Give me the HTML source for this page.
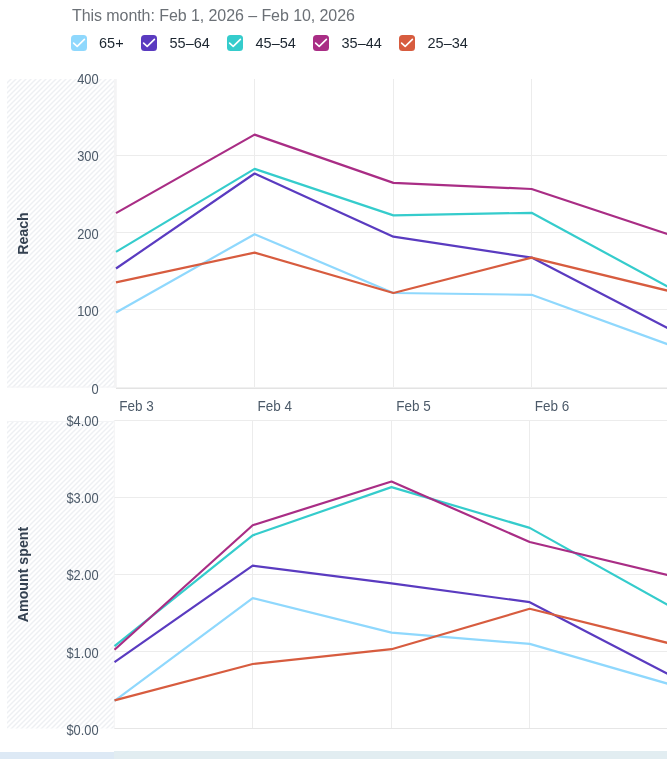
<!DOCTYPE html>
<html><head><meta charset="utf-8">
<style>
html,body{margin:0;padding:0;background:#fff;}
body{width:667px;height:759px;position:relative;overflow:hidden;font-family:"Liberation Sans",Arial,sans-serif;}
.wrap{position:absolute;left:0;top:0;width:667px;height:759px;will-change:transform;}
.title{position:absolute;left:72px;top:5.8px;font-size:16px;line-height:20px;color:#6b7076;white-space:nowrap;letter-spacing:-0.07px;}
.lg{position:absolute;top:35px;width:16px;height:16px;}
.lg svg{display:block;}
.lt{position:absolute;top:34px;font-size:14.5px;line-height:18px;color:#1c2630;white-space:nowrap;}
svg.chart{position:absolute;left:0;top:0;}
.band1{position:absolute;left:0;top:752px;width:114px;height:7px;background:#dde9f5;}
.band2{position:absolute;left:114px;top:751px;width:553px;height:8px;background:#e2edf1;}
</style></head><body><div class="wrap">
<div class="title">This month: Feb 1, 2026 – Feb 10, 2026</div>
<div class="lg" style="left:71px"><svg width="16" height="16" viewBox="0 0 16 16"><rect x="0" y="0" width="16" height="16" rx="3.5" fill="#8fd8fd"/><path d="M2.6 8.1 L6.2 11.4 L13.4 4.4" fill="none" stroke="#fff" stroke-width="1.6" stroke-linecap="round" stroke-linejoin="round"/></svg></div><div class="lt" style="left:99px">65+</div><div class="lg" style="left:141px"><svg width="16" height="16" viewBox="0 0 16 16"><rect x="0" y="0" width="16" height="16" rx="3.5" fill="#5a3bc0"/><path d="M2.6 8.1 L6.2 11.4 L13.4 4.4" fill="none" stroke="#fff" stroke-width="1.6" stroke-linecap="round" stroke-linejoin="round"/></svg></div><div class="lt" style="left:169.5px">55–64</div><div class="lg" style="left:227px"><svg width="16" height="16" viewBox="0 0 16 16"><rect x="0" y="0" width="16" height="16" rx="3.5" fill="#35cccc"/><path d="M2.6 8.1 L6.2 11.4 L13.4 4.4" fill="none" stroke="#fff" stroke-width="1.6" stroke-linecap="round" stroke-linejoin="round"/></svg></div><div class="lt" style="left:255.5px">45–54</div><div class="lg" style="left:313px"><svg width="16" height="16" viewBox="0 0 16 16"><rect x="0" y="0" width="16" height="16" rx="3.5" fill="#a92d85"/><path d="M2.6 8.1 L6.2 11.4 L13.4 4.4" fill="none" stroke="#fff" stroke-width="1.6" stroke-linecap="round" stroke-linejoin="round"/></svg></div><div class="lt" style="left:341.5px">35–44</div><div class="lg" style="left:399px"><svg width="16" height="16" viewBox="0 0 16 16"><rect x="0" y="0" width="16" height="16" rx="3.5" fill="#d75c3f"/><path d="M2.6 8.1 L6.2 11.4 L13.4 4.4" fill="none" stroke="#fff" stroke-width="1.6" stroke-linecap="round" stroke-linejoin="round"/></svg></div><div class="lt" style="left:427.5px">25–34</div>
<svg class="chart" width="667" height="759" viewBox="0 0 667 759">
<defs>
<pattern id="hatch" patternUnits="userSpaceOnUse" width="5" height="5" patternTransform="rotate(0)">
<rect width="5" height="5" fill="#fff"/>
<path d="M-1,1 l2,-2 M0,5 l5,-5 M4,6 l2,-2" stroke="#eef0f3" stroke-width="1.4"/>
</pattern>
</defs>
<rect x="7" y="79" width="107" height="308.5" fill="url(#hatch)"/>
<rect x="7" y="386.5" width="107" height="1" fill="#f3f4f6"/>
<rect x="114" y="79" width="2.8" height="309" fill="#f4f4f5"/>
<rect x="7" y="421" width="106.8" height="307.5" fill="url(#hatch)"/>
<rect x="7" y="421" width="106.8" height="1" fill="#f3f4f6"/>
<rect x="113.8" y="420" width="1" height="309" fill="#f4f4f5"/>
<g stroke="#ececec" stroke-width="1">
<line x1="116" y1="155.5" x2="667" y2="155.5"/>
<line x1="116" y1="232.5" x2="667" y2="232.5"/>
<line x1="116" y1="309.5" x2="667" y2="309.5"/>
<line x1="254.5" y1="79" x2="254.5" y2="388"/>
<line x1="393.5" y1="79" x2="393.5" y2="388"/>
<line x1="531.5" y1="79" x2="531.5" y2="388"/>
<line x1="114.5" y1="420.5" x2="667" y2="420.5"/>
<line x1="114.5" y1="497.5" x2="667" y2="497.5"/>
<line x1="114.5" y1="574.5" x2="667" y2="574.5"/>
<line x1="114.5" y1="651.5" x2="667" y2="651.5"/>
<line x1="252.5" y1="420" x2="252.5" y2="728"/>
<line x1="391.5" y1="420" x2="391.5" y2="728"/>
<line x1="529.5" y1="420" x2="529.5" y2="728"/>
</g>
<rect x="116" y="387" width="551" height="1" fill="#f0f0f0"/>
<rect x="116" y="388" width="551" height="1" fill="#e3e3e3"/>
<rect x="114.5" y="728" width="553" height="1" fill="#e6e6e6"/>
<polyline points="116.0,312.5 254.6,234.2 393.4,293.0 531.6,294.8 670.3,345.2" fill="none" stroke="#8fd8fd" stroke-width="2.2" stroke-linejoin="round" stroke-linecap="butt"/>
<polyline points="116.0,268.5 254.6,173.5 393.4,236.7 531.6,257.6 670.3,329.4" fill="none" stroke="#5a3bc0" stroke-width="2.2" stroke-linejoin="round" stroke-linecap="butt"/>
<polyline points="116.0,251.9 254.6,168.9 393.4,215.4 531.6,212.8 670.3,288.0" fill="none" stroke="#35cccc" stroke-width="2.2" stroke-linejoin="round" stroke-linecap="butt"/>
<polyline points="116.0,213.1 254.6,134.6 393.4,182.9 531.6,189.0 670.3,235.0" fill="none" stroke="#a92d85" stroke-width="2.2" stroke-linejoin="round" stroke-linecap="butt"/>
<polyline points="116.0,282.4 254.6,252.6 393.4,293.0 531.6,257.6 670.3,291.3" fill="none" stroke="#d75c3f" stroke-width="2.2" stroke-linejoin="round" stroke-linecap="butt"/>
<polyline points="114.5,700.8 252.7,598.1 391.5,632.6 529.7,643.9 668.0,683.8" fill="none" stroke="#8fd8fd" stroke-width="2.2" stroke-linejoin="round" stroke-linecap="butt"/>
<polyline points="114.5,662.2 252.7,565.7 391.5,583.3 529.7,602.2 668.0,674.0" fill="none" stroke="#5a3bc0" stroke-width="2.2" stroke-linejoin="round" stroke-linecap="butt"/>
<polyline points="114.5,646.2 252.7,535.4 391.5,487.1 529.7,527.9 668.0,605.0" fill="none" stroke="#35cccc" stroke-width="2.2" stroke-linejoin="round" stroke-linecap="butt"/>
<polyline points="114.5,649.7 252.7,525.2 391.5,481.5 529.7,542.0 668.0,575.0" fill="none" stroke="#a92d85" stroke-width="2.2" stroke-linejoin="round" stroke-linecap="butt"/>
<polyline points="114.5,700.4 252.7,664.0 391.5,649.2 529.7,608.8 668.0,643.0" fill="none" stroke="#d75c3f" stroke-width="2.2" stroke-linejoin="round" stroke-linecap="butt"/>
<g font-family="Liberation Sans, Arial, sans-serif" font-size="14.6" fill="#4c5a69" text-anchor="end">
<text transform="translate(98.6,83.7) scale(0.88,1)">400</text>
<text transform="translate(98.6,161.2) scale(0.88,1)">300</text>
<text transform="translate(98.6,238.7) scale(0.88,1)">200</text>
<text transform="translate(98.6,316.2) scale(0.88,1)">100</text>
<text transform="translate(98.6,393.6) scale(0.88,1)">0</text>
<text transform="translate(98.6,425.6) scale(0.88,1)">$4.00</text>
<text transform="translate(98.6,502.9) scale(0.88,1)">$3.00</text>
<text transform="translate(98.6,580.2) scale(0.88,1)">$2.00</text>
<text transform="translate(98.6,657.5) scale(0.88,1)">$1.00</text>
<text transform="translate(98.6,734.7) scale(0.88,1)">$0.00</text>
</g>
<g font-family="Liberation Sans, Arial, sans-serif" font-size="15.0" fill="#4c5a69">
<text transform="translate(119.3,410.7) scale(0.9,1)">Feb 3</text>
<text transform="translate(257.6,410.7) scale(0.9,1)">Feb 4</text>
<text transform="translate(396.3,410.7) scale(0.9,1)">Feb 5</text>
<text transform="translate(534.8,410.7) scale(0.9,1)">Feb 6</text>
</g>
<g font-family="Liberation Sans, Arial, sans-serif" font-size="14.2" font-weight="bold" fill="#334050" text-anchor="middle">
<text transform="translate(28,233.5) rotate(-90)">Reach</text>
<text transform="translate(28,574.5) rotate(-90)">Amount spent</text>
</g>
</svg>
<div class="band1"></div><div class="band2"></div>
</div></body></html>
